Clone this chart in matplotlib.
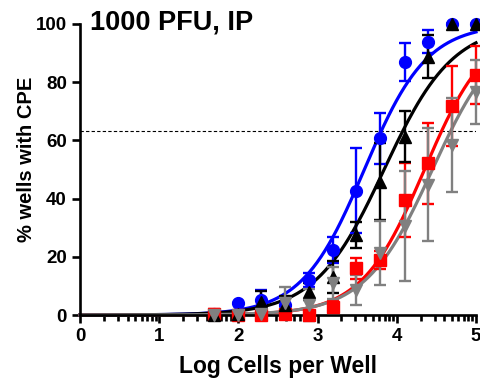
import numpy as np
import matplotlib
matplotlib.use("Agg")
import matplotlib.pyplot as plt
from matplotlib.ticker import FixedLocator

plt.rcParams['font.family'] = ['Liberation Sans', 'DejaVu Sans']
plt.rcParams['font.weight'] = 'bold'

# log10 cells per well (2-fold dilutions)
log_cells = [1.69, 1.99, 2.29, 2.59, 2.89, 3.19, 3.49, 3.79, 4.10, 4.40, 4.70, 5.00]

# % wells with CPE (mean) and error (SEM) for each group
blue_y   = [0.5, 4.0, 5.2, 3.5, 12.0, 22.3, 42.7, 60.7, 87.0, 93.9, 100, 100]
blue_err = [0.0, 0.0, 3.4, 0.0, 2.3, 4.6, 14.6, 8.8, 6.6, 4.0, 0.0, 0.0]
black_y   = [0.0, 0.5, 4.5, 3.5, 8.0, 13.2, 27.5, 45.8, 61.3, 88.8, 100, 100]
black_err = [0.0, 0.0, 3.6, 3.0, 3.0, 5.5, 4.6, 13.2, 8.7, 7.3, 0.0, 0.0]
red_y   = [0.5, 0.0, 0.0, 0.5, 0.0, 2.9, 16.0, 18.9, 39.5, 52.1, 71.9, 82.5]
red_err = [1.5, 0.0, 0.0, 0.0, 0.0, 2.0, 3.5, 3.0, 12.6, 14.0, 13.7, 10.0]
gray_y   = [0.0, 0.0, 0.5, 4.0, 3.4, 10.9, 8.6, 21.2, 30.6, 44.7, 58.4, 76.7]
gray_err = [0.0, 0.0, 0.0, 5.5, 5.4, 5.5, 5.3, 11.0, 19.0, 19.4, 16.2, 11.0]

# fitted sigmoid parameters (log EC50, Hill slope)
fit_ec50 = [3.59, 3.84, 4.35, 4.45]
fit_hill = [1.10, 1.00, 1.09, 1.02]

colors = ['#0000ff', '#000000', '#ff0000', '#808080']
markers = ['o', '^', 's', 'v']
series = [(blue_y, blue_err), (black_y, black_err), (red_y, red_err), (gray_y, gray_err)]

fig = plt.figure(figsize=(4.8, 3.84), dpi=100)
ax = fig.add_axes([80 / 480, 69 / 384, 396 / 480, 291 / 384])

xs = np.linspace(0, 5, 300)
for i in [0, 2, 1, 3]:
    y, err = series[i]
    c = colors[i]
    curve = 100 / (1 + 10 ** ((fit_ec50[i] - xs) * fit_hill[i]))
    ax.plot(xs, curve, color=c, lw=2.3, zorder=2, clip_on=False)
    ax.errorbar(log_cells, y, yerr=err, fmt=markers[i], color=c, ms=8.5,
                elinewidth=1.7, capsize=4.5, capthick=1.7, zorder=3, clip_on=False)

ax.axhline(63.2, color='black', lw=0.8, ls=(0, (3, 2)), zorder=1)

ax.text(0.13, 98.0, "1000 PFU, IP", fontsize=19.5, fontweight='bold', va='baseline')

ax.set_xlim(0, 5)
ax.set_ylim(0, 100)
ax.set_xticks([0, 1, 2, 3, 4, 5])
ax.set_yticks([0, 20, 40, 60, 80, 100])
minor = [k + np.log10(m) for k in range(5) for m in range(2, 10)]
ax.xaxis.set_minor_locator(FixedLocator(minor))
ax.tick_params(axis='both', which='major', length=6, width=1.9, labelsize=13.5, direction='out')
ax.tick_params(axis='x', which='minor', length=4, width=1.9)
for lab in ax.get_xticklabels() + ax.get_yticklabels():
    lab.set_fontweight('bold')

ax.spines['top'].set_visible(False)
ax.spines['right'].set_visible(False)
ax.spines['left'].set_linewidth(1.9)
ax.spines['bottom'].set_linewidth(1.9)

ax.set_xlabel("Log Cells per Well", fontsize=16.5, fontweight='bold', labelpad=7)
ax.set_ylabel("% wells with CPE", fontsize=14.5, fontweight='bold')
ax.yaxis.set_label_coords(-0.112, 0.535)

fig.savefig("out.png", dpi=100)
